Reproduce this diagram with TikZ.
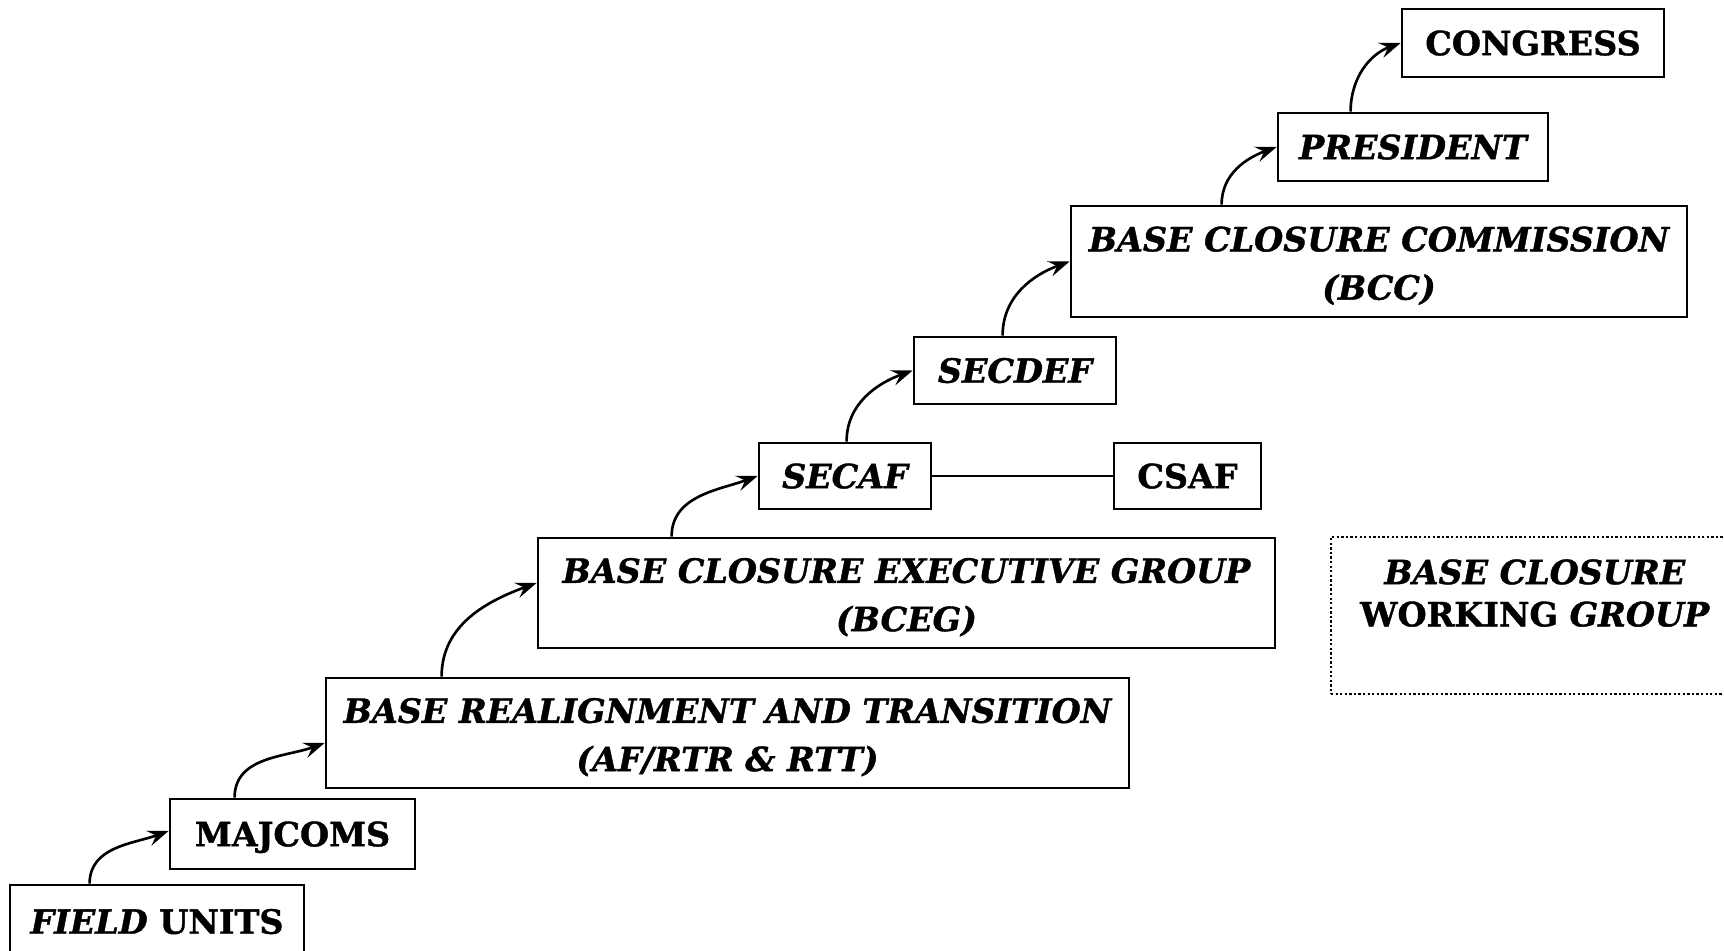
\documentclass[tikz,border=0pt]{standalone}
\usepackage{fontspec}
\setmainfont{DejaVu Serif}[BoldFeatures={FakeBold=1.2},BoldItalicFeatures={FakeBold=1.2}]
\usetikzlibrary{arrows.meta,calc}
\newdimen\pxu \pxu=0.02cm
\newcommand\bfont{\fontsize{19}{27.5}\selectfont\bfseries}
\begin{document}
\begin{tikzpicture}[x=0.02cm,y=-0.02cm,
  box/.style={draw, line width=1.6pt, inner sep=0pt, align=center, font=\bfont, text height=13.9pt, text depth=0pt},
  itbox/.style={box, font=\bfont\itshape},
  twoline/.style={text height=43.4pt, text depth=0pt},
  flow/.style={-{Stealth[length=12pt,width=9pt,inset=4.5pt]}, line width=1.5pt},
  dotbox/.style={draw, line width=1.3pt, dash pattern=on 1.3pt off 1.3pt, inner sep=0pt},
]
\clip (0,0) rectangle (1724,950);
\fill[white] (0,0) rectangle (1724,950);
% boxes
\node[box, minimum width=294\pxu, minimum height=73\pxu] (fu) at (157,921.5) {\textit{FIELD} UNITS};
\node[box, minimum width=245\pxu, minimum height=70\pxu] (maj) at (292.5,834) {MAJCOMS};
\node[itbox, twoline, minimum width=803\pxu, minimum height=110\pxu] (brt) at (727.5,733) {BASE REALIGNMENT AND TRANSITION\\(AF/RTR \& RTT)};
\node[itbox, twoline, minimum width=737\pxu, minimum height=110\pxu] (bceg) at (906.5,593) {BASE CLOSURE EXECUTIVE GROUP\\(BCEG)};
\node[dotbox, minimum width=412\pxu, minimum height=157\pxu] (bcwg) at (1537,615.5) {};
\node[font=\fontsize{19}{24}\selectfont\bfseries, align=center, inner sep=0pt, text height=37.9pt, text depth=0pt] (bcwgt) at (1535,593) {\textit{BASE CLOSURE}\\WORKING \textit{GROUP}};
\node[itbox, minimum width=172\pxu, minimum height=66\pxu] (secaf) at (845,476) {SECAF};
\node[box, minimum width=147\pxu, minimum height=66\pxu] (csaf) at (1187.5,476) {CSAF};
\node[itbox, minimum width=202\pxu, minimum height=67\pxu] (secdef) at (1015,370.5) {SECDEF};
\node[itbox, twoline, minimum width=616\pxu, minimum height=111\pxu] (bcc) at (1379,261.5) {BASE CLOSURE COMMISSION\\(BCC)};
\node[itbox, minimum width=270\pxu, minimum height=68\pxu] (pres) at (1413,147) {PRESIDENT};
\node[box, minimum width=262\pxu, minimum height=68\pxu] (cong) at (1533,43) {CONGRESS};
% connectors
\draw[flow] ($(fu.north west)+(81,0)$) to[out=90,in=200] ($(maj.west)+(0,-3)$);
\draw[flow] ($(maj.north west)+(66,0)$) to[out=90,in=200] ($(brt.west)+(0,10)$);
\draw[flow] ($(brt.north west)+(117,0)$) to[out=90,in=200] ($(bceg.west)+(0,-10)$);
\draw[flow] ($(bceg.north west)+(135,0)$) to[out=90,in=200] (secaf.west);
\draw[flow] ($(secaf.north west)+(89,0)$) to[out=90,in=200] (secdef.west);
\draw[flow] ($(secdef.north west)+(90,0)$) to[out=90,in=200] (bcc.west);
\draw[flow] ($(bcc.north west)+(152,0)$) to[out=90,in=200] (pres.west);
\draw[flow] ($(pres.north west)+(74,0)$) to[out=90,in=200] (cong.west);
\draw[line width=1.4pt] (secaf.east) -- (csaf.west);
\draw[line width=1.3pt, dash pattern=on 1.3pt off 1.3pt] ($(bceg.east)+(0,5)$) -- ($(bceg.east)+(0,5)$ -| bcwg.west);
\end{tikzpicture}
\end{document}
